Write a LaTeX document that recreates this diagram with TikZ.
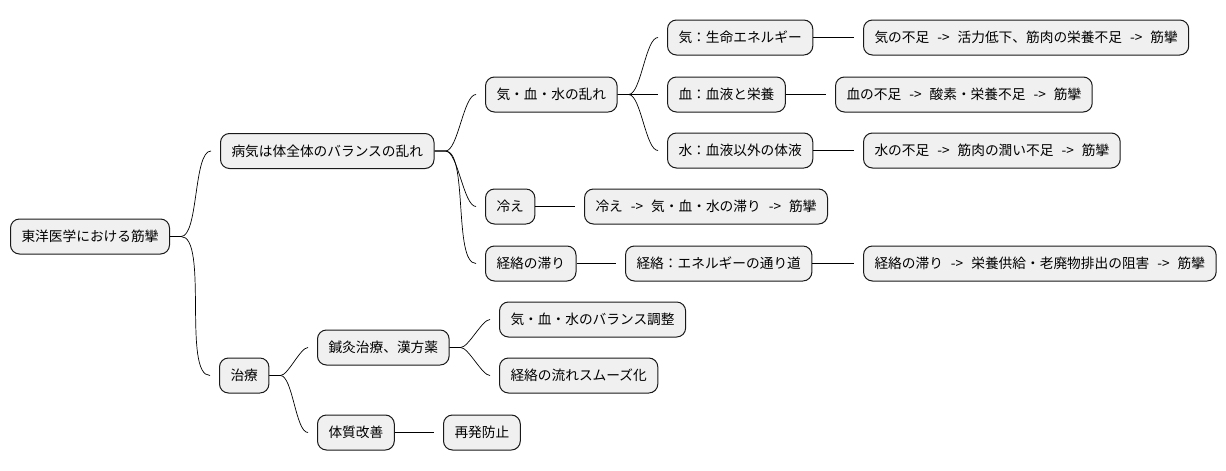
\documentclass[tikz,border=0pt]{standalone}
\usepackage{fontspec}
\setmainfont[WordSpace=2.6]{Noto Sans CJK JP}
\begin{document}
\begin{tikzpicture}[x=1pt,y=-1pt, every node/.style={font=\fontsize{13.7}{16}\selectfont},
  b/.style={draw=black!90,line width=1pt,fill=black!6,rounded corners=9pt,minimum height=35pt,inner xsep=11pt,anchor=west},
  c/.style={line width=0.7pt,to path={-- ++(11,0) to[out=0,in=180,looseness=0.5] ([xshift=-9]\tikztotarget) -- (\tikztotarget)}}]
\useasboundingbox (0,0) rectangle (1226,471);
% root and first level
\node[b] (root) at (10,236.5) {東洋医学における筋攣};
\node[b] (byoki) at (220,151) {病気は体全体のバランスの乱れ};
\node[b] (chiryo) at (219,375.5) {治療};
% causes
\node[b] (kiketsu) at (485,94.5) {気・血・水の乱れ};
\node[b] (hie) at (485,206.5) {冷え};
\node[b] (keiraku) at (485,263.5) {経絡の滞り};
\node[b] (ki) at (667,37.5) {気：生命エネルギー};
\node[b] (ketsu) at (667,94.5) {血：血液と栄養};
\node[b] (mizu) at (667,150.5) {水：血液以外の体液};
\node[b] (kiF) at (863,37.5) {気の不足 -> 活力低下、筋肉の栄養不足 -> 筋攣};
\node[b] (ketsuF) at (835,94.5) {血の不足 -> 酸素・栄養不足 -> 筋攣};
\node[b] (mizuF) at (863,150.5) {水の不足 -> 筋肉の潤い不足 -> 筋攣};
\node[b] (hieF) at (584,206.5) {冷え -> 気・血・水の滞り -> 筋攣};
\node[b] (keirakuD) at (625,263.5) {経絡：エネルギーの通り道};
\node[b] (keirakuF) at (863,263.5) {経絡の滞り -> 栄養供給・老廃物排出の阻害 -> 筋攣};
% treatment
\node[b] (shinkyu) at (317,347.5) {鍼灸治療、漢方薬};
\node[b] (taishitsu) at (317,432.5) {体質改善};
\node[b] (balance) at (499,319.5) {気・血・水のバランス調整};
\node[b] (smooth) at (499,375.5) {経絡の流れスムーズ化};
\node[b] (saihatsu) at (443,432.5) {再発防止};
% connectors
\draw[c] (root.east) to (byoki.west);
\draw[c] (root.east) to (chiryo.west);
\draw[c] (byoki.east) to (kiketsu.west);
\draw[c] (byoki.east) to (hie.west);
\draw[c] (byoki.east) to (keiraku.west);
\draw[c] (kiketsu.east) to (ki.west);
\draw[c] (kiketsu.east) to (ketsu.west);
\draw[c] (kiketsu.east) to (mizu.west);
\draw[c] (ki.east) to (kiF.west);
\draw[c] (ketsu.east) to (ketsuF.west);
\draw[c] (mizu.east) to (mizuF.west);
\draw[c] (hie.east) to (hieF.west);
\draw[c] (keiraku.east) to (keirakuD.west);
\draw[c] (keirakuD.east) to (keirakuF.west);
\draw[c] (chiryo.east) to (shinkyu.west);
\draw[c] (chiryo.east) to (taishitsu.west);
\draw[c] (shinkyu.east) to (balance.west);
\draw[c] (shinkyu.east) to (smooth.west);
\draw[c] (taishitsu.east) to (saihatsu.west);
\end{tikzpicture}
\end{document}
